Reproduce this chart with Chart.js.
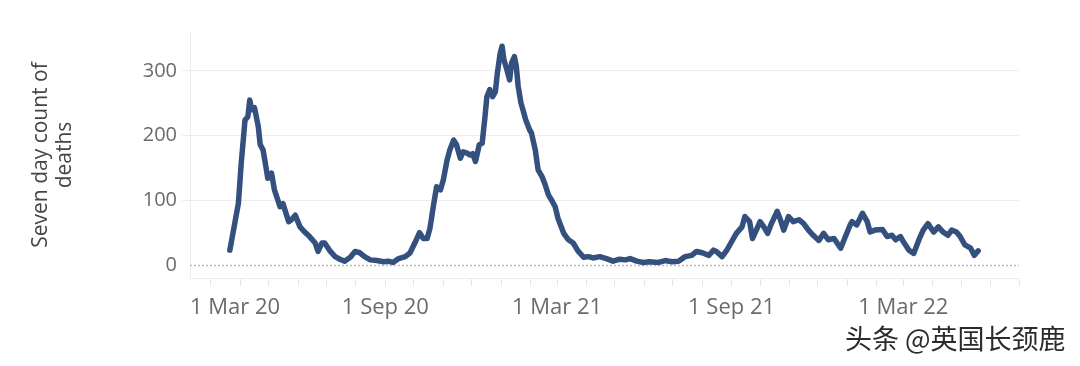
<!DOCTYPE html>
<html><head><meta charset="utf-8">
<script src="https://cdn.jsdelivr.net/npm/chart.js@4.4.1/dist/chart.umd.min.js"></script>
<style>
html,body{margin:0;padding:0;background:#fff;}
#wrap{position:relative;width:1080px;height:366px;overflow:hidden;}
#c{position:absolute;left:0;top:0;}
#wm{position:absolute;left:845px;top:320px;font-family:"Noto Sans CJK SC";font-size:27px;line-height:36px;color:#2b2b2b;white-space:nowrap;text-shadow:1px 1px 0 #fff,-1px -1px 0 #fff;}
</style></head><body>
<div id="wrap"><canvas id="c" width="1080" height="366"></canvas><div id="wm">头条 @英国长颈鹿</div></div>
<script>
const dates = [
'2020-03-21','2020-03-30','2020-04-02','2020-04-06','2020-04-09','2020-04-11','2020-04-13','2020-04-16','2020-04-20','2020-04-22',
'2020-04-25','2020-04-28','2020-04-30','2020-05-04','2020-05-07','2020-05-13','2020-05-16','2020-05-22','2020-05-25','2020-05-29',
'2020-06-03','2020-06-08','2020-06-13','2020-06-19','2020-06-22','2020-06-26','2020-06-29','2020-07-05','2020-07-10','2020-07-15',
'2020-07-20','2020-07-26','2020-07-31','2020-08-05','2020-08-10','2020-08-16','2020-08-23','2020-08-30','2020-09-04','2020-09-09',
'2020-09-15','2020-09-22','2020-09-27','2020-10-02','2020-10-07','2020-10-11','2020-10-15','2020-10-18','2020-10-22','2020-10-25',
'2020-10-29','2020-11-01','2020-11-05','2020-11-08','2020-11-12','2020-11-15','2020-11-19','2020-11-22','2020-11-26','2020-11-29',
'2020-12-02','2020-12-05','2020-12-09','2020-12-12','2020-12-15','2020-12-17','2020-12-20','2020-12-23','2020-12-26','2020-12-28',
'2020-12-31','2021-01-02','2021-01-04','2021-01-07','2021-01-10','2021-01-12','2021-01-15','2021-01-17','2021-01-19','2021-01-22',
'2021-01-24','2021-01-27','2021-01-31','2021-02-02','2021-02-06','2021-02-09','2021-02-13','2021-02-16','2021-02-20','2021-02-23',
'2021-02-27','2021-03-02','2021-03-08','2021-03-13','2021-03-18','2021-03-23','2021-03-29','2021-04-03','2021-04-08','2021-04-15',
'2021-04-22','2021-04-29','2021-05-06','2021-05-12','2021-05-17','2021-05-24','2021-05-31','2021-06-06','2021-06-16','2021-06-23',
'2021-06-30','2021-07-07','2021-07-14','2021-07-21','2021-07-26','2021-08-01','2021-08-08','2021-08-13','2021-08-16','2021-08-22',
'2021-08-27','2021-09-01','2021-09-06','2021-09-12','2021-09-15','2021-09-20','2021-09-23','2021-09-28','2021-10-01','2021-10-05',
'2021-10-09','2021-10-13','2021-10-19','2021-10-22','2021-10-26','2021-10-31','2021-11-05','2021-11-11','2021-11-16','2021-11-21',
'2021-11-26','2021-12-02','2021-12-07','2021-12-12','2021-12-18','2021-12-25','2021-12-30','2022-01-04','2022-01-06','2022-01-11',
'2022-01-17','2022-01-22','2022-01-25','2022-01-30','2022-02-07','2022-02-12','2022-02-17','2022-02-21','2022-02-26','2022-03-02',
'2022-03-07','2022-03-12','2022-03-18','2022-03-22','2022-03-27','2022-04-02','2022-04-07','2022-04-12','2022-04-17','2022-04-21',
'2022-04-26','2022-04-30','2022-05-05','2022-05-11','2022-05-15','2022-05-19'
];
const deaths = [
23,95,157,224,229,255,240,243,214,186,
178,152,134,142,116,90,95,67,70,77,
59,51,44,34,21,34,34,21,13,9,
6,12,21,19,13,8,7,5,6,4,
10,13,19,34,50,41,41,57,95,121,
116,131,162,178,193,186,165,175,173,170,
172,160,186,188,229,260,271,260,268,296,
327,338,317,302,286,312,322,307,276,250,
240,224,209,204,178,147,137,126,108,101,
90,72,49,39,34,22,12,13,11,13,
10,6,9,8,10,6,4,5,4,7,
5,6,13,15,21,19,15,23,21,13,
23,36,49,59,75,67,41,57,67,59,
49,64,83,72,54,75,67,70,64,54,
46,38,49,39,41,26,44,62,67,62,
80,67,51,54,55,44,46,39,44,34,
23,18,41,54,64,51,59,51,46,54,
51,44,31,26,15,22
];
const yTicks = [0, 100, 200, 300];
const xLabelDates = ['2020-03-01','2020-09-01','2021-03-01','2021-09-01','2022-03-01'];
const xLabels = ['1 Mar 20','1 Sep 20','1 Mar 21','1 Sep 21','1 Mar 22'];
const yTitle = ['Seven day count of', 'deaths'];

function dayNum(s){const p=s.split('-').map(Number);return (Date.UTC(p[0],p[1]-1,p[2])-Date.UTC(2020,0,1))/86400000;}
// month-start tick positions for minor tick marks
const monthTicks=[];
for(let y=2020;y<=2022;y++){for(let m=0;m<12;m++){const v=(Date.UTC(y,m,1)-Date.UTC(2020,0,1))/86400000;if(v>=38&&v<=912)monthTicks.push(v);}}

const FONT='"Open Sans", "DejaVu Sans", sans-serif';

const zeroLine={id:'zeroLine',beforeDatasetsDraw(chart){
  const {ctx,chartArea:a,scales:{y}}=chart;const py=Math.round(y.getPixelForValue(0))+0.5;
  ctx.save();ctx.strokeStyle='#bdbdbd';ctx.lineWidth=1.5;ctx.setLineDash([2,2]);
  ctx.beginPath();ctx.moveTo(a.left,py);ctx.lineTo(a.right,py);ctx.stroke();ctx.restore();}};
const xLabelPlugin={id:'xLabels',afterDraw(chart){
  const {ctx,chartArea:a,scales:{x}}=chart;ctx.save();
  ctx.font='22px '+FONT;ctx.fillStyle='#6b6b6b';ctx.textBaseline='middle';ctx.textAlign='left';
  xLabelDates.forEach((d,i)=>{const px=x.getPixelForValue(dayNum(d));const w=ctx.measureText(xLabels[i]).width;
    let left=px-w/2;if(left<a.left)left=a.left;ctx.fillText(xLabels[i],left,a.bottom+30);});
  ctx.restore();}};

new Chart(document.getElementById('c'),{
  type:'line',
  data:{datasets:[{data:dates.map((d,i)=>({x:dayNum(d),y:deaths[i]})),borderColor:'#34507f',borderWidth:5.5,
    pointRadius:0,tension:0,borderJoinStyle:'round',borderCapStyle:'round',fill:false}]},
  options:{
    responsive:false,animation:false,devicePixelRatio:1,
    layout:{padding:{left:0,right:61,top:32,bottom:0}},
    plugins:{legend:{display:false},tooltip:{enabled:false}},
    scales:{
      x:{type:'linear',min:38,max:912,
        afterBuildTicks(s){s.ticks=monthTicks.map(v=>({value:v}));},
        afterFit(s){s.height=88;},
        ticks:{autoSkip:false,maxRotation:0,callback:()=>''},
        grid:{drawOnChartArea:false,drawTicks:true,tickLength:8,color:'#e6e6e6'},
        border:{display:true,color:'#ececec'}},
      y:{min:-20,max:360,
        afterBuildTicks(s){s.ticks=yTicks.map(v=>({value:v}));},
        afterFit(s){s.width=190;},
        ticks:{color:'#6b6b6b',font:{family:FONT,size:20},padding:5},
        grid:{color:(c)=>(c.tick&&c.tick.value===0)?'rgba(0,0,0,0)':'#ededed',drawTicks:true,tickLength:8},
        border:{display:true,color:'#ececec'},
        title:{display:true,text:yTitle,color:'#454545',font:{family:FONT,size:21,lineHeight:1.15},padding:{top:29,bottom:0}}}
    }
  },
  plugins:[zeroLine,xLabelPlugin]
});
</script>
</body></html>
